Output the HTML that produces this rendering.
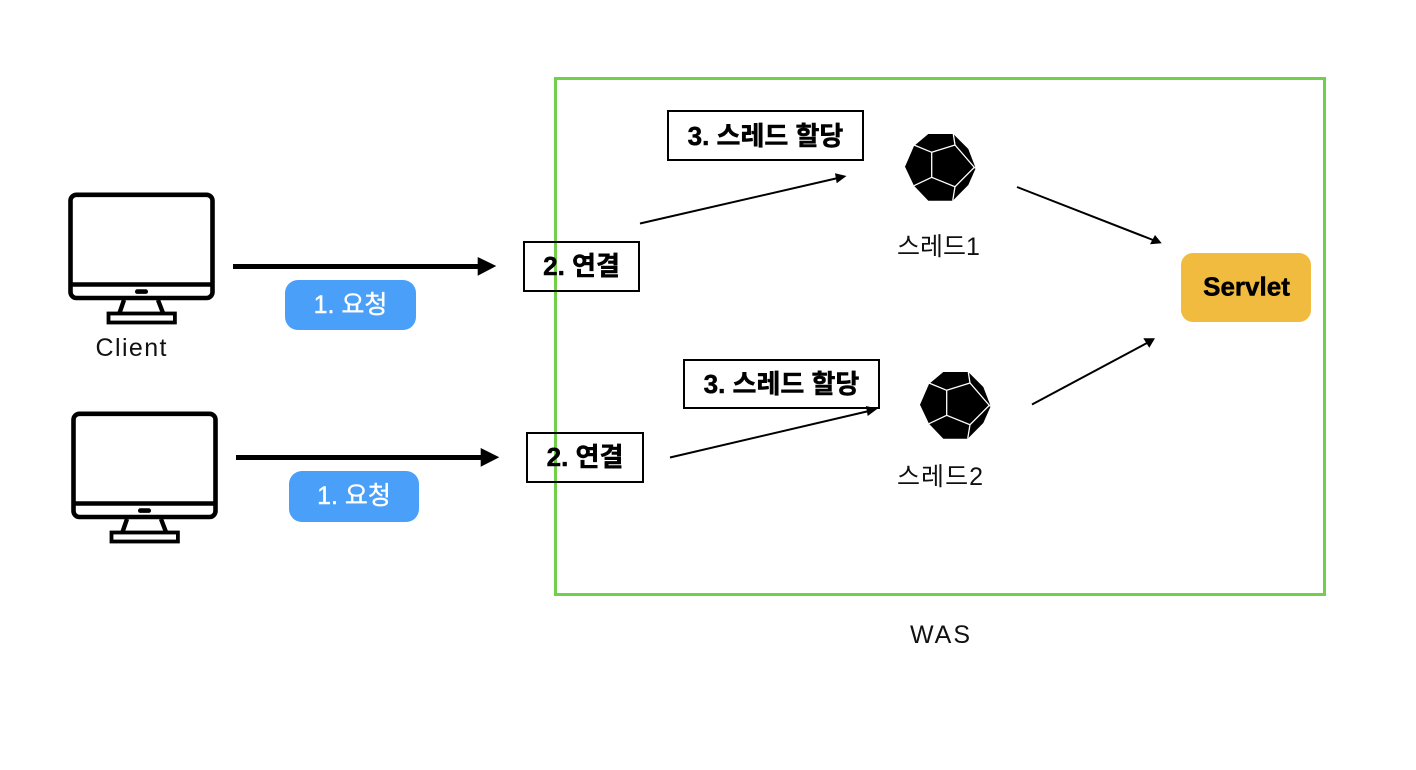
<!DOCTYPE html>
<html lang="ko">
<head>
<meta charset="utf-8">
<style>
html,body{margin:0;padding:0;background:#fff;width:1416px;height:770px;overflow:hidden}
svg{display:block}
text{font-family:"Liberation Sans","Noto Sans CJK KR",sans-serif;text-anchor:middle}
.b{font-weight:700;font-size:26px;fill:#000;stroke:#000;stroke-width:.5px}
.n{font-size:25px;fill:#111}
.w{font-size:25px;fill:#fff;stroke:#fff;stroke-width:.4px}
.box{fill:none;stroke:#000;stroke-width:2}
.thin{stroke:#000;stroke-width:2;fill:none}
.thick{stroke:#000;stroke-width:5;fill:none}
</style>
</head>
<body>
<svg width="1416" height="770" viewBox="0 0 1416 770" xmlns="http://www.w3.org/2000/svg">
<defs>
<g id="mon" fill="none" stroke="#000">
  <rect x="70.5" y="194.8" width="142" height="103.2" rx="6" stroke-width="4.6"/>
  <line x1="70" y1="284.5" x2="213" y2="284.5" stroke-width="4.6"/>
  <rect x="135" y="289.3" width="13" height="4.6" rx="2.2" fill="#000" stroke="none"/>
  <path d="M124 300 L119.5 313 M158 300 L163 313" stroke-width="4.4"/>
  <rect x="108.5" y="313.5" width="66.4" height="9" stroke-width="3.8"/>
</g>
<g id="ico">
  <polygon points="928.3,134 953.3,134 968.3,149 975.7,168.3 968.3,185 952.7,200.7 928.3,200.7 914,185.7 905,166.7 914,146" fill="#000"/>
  <g stroke="#fff" stroke-width="1.3" fill="none">
    <polygon points="931.7,152.3 955,145 974.3,167.3 955,186.7 931.7,177.3"/>
    <path d="M955,145 L953.3,134 M974.3,167.3 L975.7,168.3 M955,186.7 L952.7,200.7 M931.7,177.3 L914,185.7 M931.7,152.3 L914,145"/>
  </g>
</g>
</defs>

<rect x="555.5" y="78.5" width="769" height="516" fill="none" stroke="#70d04a" stroke-width="3"/>

<use href="#mon"/>
<use href="#mon" x="3" y="219"/>
<text class="n" x="131" y="356" textLength="71" lengthAdjust="spacing">Client</text>

<line class="thick" x1="233" y1="266.5" x2="482" y2="266.5"/>
<polygon points="477.7,257 496.3,266 477.7,275.7"/>
<line class="thick" x1="236" y1="457.5" x2="485" y2="457.5"/>
<polygon points="480.7,448 499.3,457.3 480.7,466.7"/>

<rect x="285" y="280" width="131" height="50" rx="13" fill="#4a9ff9"/>
<text class="w" x="350.5" y="313">1. 요청</text>
<rect x="289" y="471" width="130" height="51" rx="13" fill="#4a9ff9"/>
<text class="w" x="354" y="504">1. 요청</text>

<rect class="box" x="524" y="242" width="115" height="49"/>
<text class="b" x="581.5" y="275">2. 연결</text>
<rect class="box" x="527" y="433" width="116" height="49"/>
<text class="b" x="585" y="466">2. 연결</text>

<rect class="box" x="668" y="111" width="195" height="49"/>
<text class="b" x="765.5" y="145">3. 스레드 할당</text>
<rect class="box" x="684" y="360" width="195" height="48"/>
<text class="b" x="781.5" y="393">3. 스레드 할당</text>

<line class="thin" x1="640" y1="223.5" x2="838" y2="178"/>
<polygon points="846.5,176 835,173.3 836.7,183.3"/>
<line class="thin" x1="670" y1="457.5" x2="869" y2="411"/>
<polygon points="877.5,408.7 866,406 867.7,416"/>
<line class="thin" x1="1017" y1="187" x2="1153" y2="240"/>
<polygon points="1161.7,243.3 1155,235 1150,244.3"/>
<line class="thin" x1="1032" y1="404.5" x2="1147" y2="343"/>
<polygon points="1155,338.3 1143.3,338.3 1149.3,347.7"/>

<use href="#ico"/>
<use href="#ico" x="15" y="238"/>

<text class="n" x="938.5" y="255">스레드1</text>
<text class="n" x="940" y="485" textLength="86" lengthAdjust="spacing">스레드2</text>

<rect x="1181" y="253" width="130" height="69" rx="12" fill="#f0bb3e"/>
<text class="b" x="1246.5" y="295.5">Servlet</text>

<text class="n" x="940" y="643" textLength="60" lengthAdjust="spacing">WAS</text>
</svg>
</body>
</html>
